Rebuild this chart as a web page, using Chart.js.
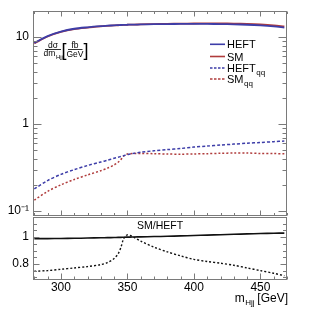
<!DOCTYPE html>
<html>
<head>
<meta charset="utf-8">
<script src="https://cdn.jsdelivr.net/npm/chart.js@4/dist/chart.umd.min.js"></script>
<style>
  html, body { margin: 0; padding: 0; background: #fff; }
  #wrap { position: relative; width: 319px; height: 310px; }
  #top { position: absolute; left: 0; top: 0; }
  #bot { position: absolute; left: 0; top: 216px; }
</style>
</head>
<body>
<div id="wrap">
  <canvas id="top" width="319" height="217"></canvas>
  <canvas id="bot" width="319" height="94"></canvas>
</div>
<script>
// ---- data ----
const mHjj = [280, 290, 300, 310, 320, 330, 335, 340, 343, 345, 347, 349, 350, 352, 355, 360, 370, 380, 390, 400, 410, 420, 430, 440, 450, 460, 468];
const heft = [8.6, 10.3, 11.6, 12.5, 13.0, 13.4, 13.55, 13.7, 13.75, 13.8, 13.85, 13.88, 13.9, 13.92, 13.95, 14.0, 14.1, 14.15, 14.2, 14.2, 14.2, 14.15, 14.05, 13.9, 13.65, 13.3, 12.9];
const sm = [8.5, 10.19, 11.48, 12.39, 12.91, 13.33, 13.5, 13.66, 13.72, 13.77, 13.84, 13.88, 13.9, 13.92, 13.96, 14.03, 14.16, 14.24, 14.33, 14.37, 14.41, 14.4, 14.35, 14.23, 14.02, 13.69, 13.29];
const heftQQ = [0.18, 0.225, 0.265, 0.30, 0.335, 0.367, 0.385, 0.405, 0.417, 0.425, 0.433, 0.442, 0.447, 0.453, 0.462, 0.475, 0.495, 0.51, 0.525, 0.545, 0.56, 0.575, 0.59, 0.605, 0.615, 0.63, 0.64];
const smQQ = [0.134, 0.169, 0.201, 0.231, 0.261, 0.292, 0.312, 0.340, 0.365, 0.391, 0.427, 0.447, 0.455, 0.458, 0.461, 0.461, 0.458, 0.454, 0.452, 0.455, 0.458, 0.463, 0.466, 0.466, 0.461, 0.460, 0.456];
const ratioIncl = [0.988, 0.989, 0.99, 0.991, 0.993, 0.995, 0.996, 0.997, 0.998, 0.998, 0.999, 1.0, 1.0, 1.0, 1.001, 1.002, 1.004, 1.006, 1.009, 1.012, 1.015, 1.018, 1.021, 1.024, 1.027, 1.029, 1.03];
const ratioQQ = [0.745, 0.75, 0.76, 0.77, 0.78, 0.795, 0.81, 0.84, 0.875, 0.92, 0.985, 1.012, 1.017, 1.012, 0.998, 0.97, 0.925, 0.89, 0.86, 0.834, 0.818, 0.805, 0.79, 0.77, 0.75, 0.73, 0.712];
const xTickLabels = [300, 350, 400, 450];
const yTopLabels = [0.1, 1, 10];
const yBotLabels = [0.8, 1];
const seriesNames = ['HEFT', 'SM', 'HEFT', 'SM'];
const seriesSubs = ['', '', 'qq', 'qq'];

const BLUE = '#3d3da8', RED = '#b03c3c', FRAME = '#7a7a7a';
const FONT = '"Liberation Sans", Arial, sans-serif';
const pts = (ys) => mHjj.map((x, i) => ({ x, y: ys[i] }));

function sub(ctx, main, subTxt, x, y, size, align) {
  ctx.font = size + 'px ' + FONT;
  const w1 = ctx.measureText(main).width;
  ctx.font = Math.round(size * 0.7) + 'px ' + FONT;
  const w2 = subTxt ? ctx.measureText(subTxt).width : 0;
  let x0 = x;
  if (align === 'center') x0 = x - (w1 + w2) / 2;
  if (align === 'right') x0 = x - (w1 + w2);
  ctx.textAlign = 'left';
  ctx.textBaseline = 'alphabetic';
  ctx.font = size + 'px ' + FONT;
  ctx.fillText(main, x0, y);
  if (subTxt) {
    ctx.font = Math.round(size * 0.7) + 'px ' + FONT;
    ctx.fillText(subTxt, x0 + w1 + 0.5, y + size * 0.3);
  }
}

function makeFrame(cfg) {
  return {
    id: 'rootFrame' + cfg.name,
    afterDatasetsDraw(chart) {
      const { ctx, chartArea: a, scales } = chart;
      ctx.save();
      ctx.strokeStyle = FRAME;
      ctx.lineWidth = 1;
      const L = Math.round(a.left) + 0.5, R = Math.round(a.right) - 0.5;
      const T = Math.round(a.top) + 0.5, B = Math.round(a.bottom) - 0.5;
      ctx.strokeRect(L, T, R - L, B - T);
      ctx.beginPath();
      for (let v = 280; v <= 470; v += 10) {
        const px = Math.round(scales.x.getPixelForValue(v)) + 0.5;
        const major = v % 50 === 0;
        const len = major ? cfg.xMajor : cfg.xMinor;
        if (cfg.xBottom) { ctx.moveTo(px, B); ctx.lineTo(px, B - len); }
        if (cfg.xTop) { ctx.moveTo(px, T); ctx.lineTo(px, T + len); }
      }
      for (const t of cfg.yTicks) {
        const py = Math.round(scales.y.getPixelForValue(t.v)) + 0.5;
        if (py <= T + 1 || py >= B - 1) continue;
        const len = t.major ? cfg.yMajor : cfg.yMinor;
        ctx.moveTo(L, py); ctx.lineTo(L + len, py);
        ctx.moveTo(R, py); ctx.lineTo(R - len, py);
      }
      ctx.stroke();
      ctx.restore();
      if (cfg.extra) { ctx.save(); cfg.extra(ctx, chart); ctx.restore(); }
    }
  };
}

const topTicks = [];
for (let d = -2; d <= 1; d++) for (let m = 1; m <= 9; m++) topTicks.push({ v: m * Math.pow(10, d), major: m === 1 });
const botTicks = [];
for (let k = 14; k <= 23; k++) botTicks.push({ v: k * 0.05, major: (k === 16 || k === 20) });

function topExtra(ctx, chart) {
  ctx.fillStyle = '#000';
  ctx.textBaseline = 'alphabetic';
  // dσ / dm_Hjj
  ctx.textAlign = 'center';
  ctx.font = '8.5px ' + FONT;
  ctx.fillText('dσ', 53, 47.5);
  ctx.fillRect(45, 49, 16, 0.8);
  sub(ctx, 'dm', 'Hjj', 53, 56, 8.5, 'center');
  // [ fb / GeV ]
  ctx.textAlign = 'left';
  ctx.font = '18px ' + FONT;
  ctx.fillText('[', 61.5, 55.5);
  ctx.fillText(']', 83.5, 55.5);
  ctx.textAlign = 'center';
  ctx.font = '8.5px ' + FONT;
  ctx.fillText('fb', 75, 47.5);
  ctx.fillRect(68, 49, 14.5, 0.8);
  ctx.fillText('GeV', 75, 57);
  // legend
  const rows = [44.3, 56.5, 68, 79];
  const cols = [BLUE, RED, BLUE, RED];
  for (let i = 0; i < 4; i++) {
    ctx.strokeStyle = cols[i];
    ctx.lineWidth = i < 2 ? 1.6 : 1.4;
    ctx.setLineDash(i < 2 ? [] : [2.5, 1.5]);
    ctx.beginPath(); ctx.moveTo(210, rows[i]); ctx.lineTo(225, rows[i]); ctx.stroke();
    ctx.setLineDash([]);
    ctx.fillStyle = '#000';
    sub(ctx, seriesNames[i], seriesSubs[i], 227, rows[i] + 4, 11, 'left');
  }
}

function botExtra(ctx, chart) {
  ctx.fillStyle = '#000';
  ctx.font = '10.5px ' + FONT; ctx.textAlign = 'center'; ctx.textBaseline = 'alphabetic';
  const a = chart.chartArea;
  ctx.fillText('SM/HEFT', (a.left + a.right) / 2, 13);
  ctx.font = '12px ' + FONT;
  const w3 = ctx.measureText(' [GeV]').width;
  ctx.textAlign = 'right';
  ctx.fillText(' [GeV]', a.right + 1, 85.5);
  sub(ctx, 'm', 'Hjj', a.right + 1 - w3, 85.5, 12, 'right');
}

const noPad = (s) => { s.paddingTop = 0; s.paddingBottom = 0; s.paddingLeft = 0; s.paddingRight = 0; };

const common = {
  responsive: false,
  animation: false,
  devicePixelRatio: 1,
  events: [],
  plugins: { legend: { display: false }, tooltip: { enabled: false } },
  elements: { point: { radius: 0 }, line: { tension: 0.3, fill: false } }
};

new Chart(document.getElementById('top'), {
  type: 'line',
  data: {
    datasets: [
      { label: 'HEFT', data: pts(heft), borderColor: BLUE, borderWidth: 1.8 },
      { label: 'SM', data: pts(sm), borderColor: RED, borderWidth: 1.8 },
      { label: 'HEFTqq', data: pts(heftQQ), borderColor: BLUE, borderWidth: 1.5, borderDash: [3, 2] },
      { label: 'SMqq', data: pts(smQQ), borderColor: RED, borderWidth: 1.5, borderDash: [2, 2] }
    ]
  },
  options: Object.assign({}, common, {
    layout: { padding: { left: 0, top: 11, right: 32, bottom: 1 } },
    scales: {
      x: { type: 'linear', min: 279, max: 470, display: false },
      y: {
        type: 'logarithmic', min: 0.088, max: 20,
        grid: { display: false, drawTicks: false },
        border: { display: false },
        afterFit: (s) => { s.width = 33; noPad(s); },
        afterBuildTicks: (s) => { s.ticks = yTopLabels.map(v => ({ value: v })); },
        ticks: {
          padding: 4, color: '#000', font: { family: FONT, size: 12 },
          callback: (v) => v >= 9.99 ? '10' : (v >= 0.999 ? '1' : '10\u207B\u00B9')
        }
      }
    }
  }),
  plugins: [makeFrame({ name: 'top', xTop: true, xBottom: true, xMajor: 5, xMinor: 2.5, yMajor: 8, yMinor: 4, yTicks: topTicks, extra: topExtra })]
});

new Chart(document.getElementById('bot'), {
  type: 'line',
  data: {
    datasets: [
      { label: 'incl', data: pts(ratioIncl), borderColor: '#111', borderWidth: 1.6 },
      { label: 'qq', data: pts(ratioQQ), borderColor: '#111', borderWidth: 1.4, borderDash: [2, 2] }
    ]
  },
  options: Object.assign({}, common, {
    layout: { padding: { left: 0, top: 1, right: 32, bottom: 0 } },
    scales: {
      x: {
        type: 'linear', min: 279, max: 470,
        grid: { display: false, drawTicks: false },
        border: { display: false },
        afterFit: (s) => { s.height = 30; noPad(s); },
        afterBuildTicks: (s) => { s.ticks = xTickLabels.map(v => ({ value: v })); },
        ticks: { padding: 0, maxRotation: 0, color: '#000', font: { family: FONT, size: 12 }, callback: (v) => String(v) }
      },
      y: {
        type: 'linear', min: 0.68, max: 1.15,
        grid: { display: false, drawTicks: false },
        border: { display: false },
        afterFit: (s) => { s.width = 33; noPad(s); },
        afterBuildTicks: (s) => { s.ticks = yBotLabels.map(v => ({ value: v })); },
        ticks: { padding: 4, color: '#000', font: { family: FONT, size: 12 }, callback: (v) => (Math.abs(v - 1) < 1e-6 ? '1' : '0.8') }
      }
    }
  }),
  plugins: [makeFrame({ name: 'bot', xTop: false, xBottom: true, xMajor: 6, xMinor: 3, yMajor: 6, yMinor: 3.5, yTicks: botTicks, extra: botExtra })]
});
</script>
</body>
</html>
